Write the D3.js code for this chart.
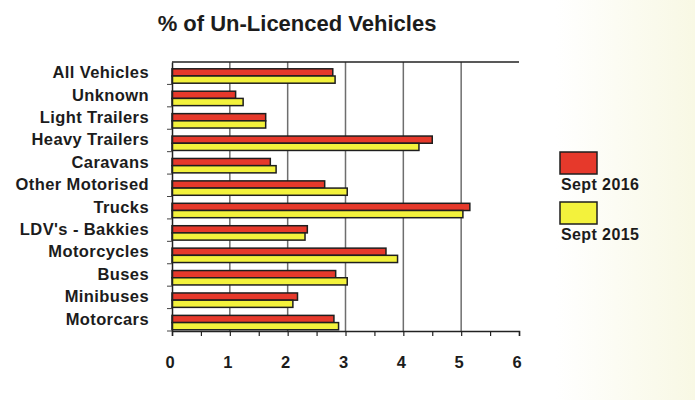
<!DOCTYPE html>
<html>
<head>
<meta charset="utf-8">
<script src="https://cdn.jsdelivr.net/npm/d3@7"></script>
<style>
  body { margin: 0; background: #fff; }
  svg text { font-family: "Liberation Sans", Arial, sans-serif; font-weight: bold; fill: #1c1c1c; }
</style>
</head>
<body>
<div id="chart"></div>
<script>
// data
var categories = ["All Vehicles", "Unknown", "Light Trailers", "Heavy Trailers", "Caravans",
  "Other Motorised", "Trucks", "LDV's - Bakkies", "Motorcycles", "Buses", "Minibuses", "Motorcars"];
var sept2016 = [2.78, 1.1, 1.62, 4.5, 1.7, 2.64, 5.15, 2.34, 3.7, 2.83, 2.17, 2.8];
var sept2015 = [2.82, 1.23, 1.62, 4.27, 1.8, 3.03, 5.03, 2.3, 3.9, 3.03, 2.09, 2.88];
var seriesNames = ["Sept 2016", "Sept 2015"];
var seriesColors = ["#e6392b", "#f3f23c"];
var xTicks = [0, 1, 2, 3, 4, 5, 6];

var width = 695, height = 400;
var svg = d3.select("#chart").append("svg")
  .attr("width", width)
  .attr("height", height);

// faint yellow tint of the scanned page at the right
var defs = svg.append("defs");
var grad = defs.append("linearGradient").attr("id", "paper")
  .attr("x1", "0%").attr("y1", "0%").attr("x2", "100%").attr("y2", "0%");
grad.append("stop").attr("offset", "0%").attr("stop-color", "#ffffff");
grad.append("stop").attr("offset", "80%").attr("stop-color", "#ffffff");
grad.append("stop").attr("offset", "100%").attr("stop-color", "#f8f8e4");
svg.append("rect").attr("width", width).attr("height", height).attr("fill", "url(#paper)");

var x = d3.scaleLinear().domain([0, 6]).range([172, 519]);
var y = d3.scaleBand().domain(categories).range([62, 331]);

// title
svg.append("text")
  .attr("x", 297).attr("y", 31)
  .attr("text-anchor", "middle")
  .style("font-size", "22px")
  .text("% of Un-Licenced Vehicles");

// gridlines
svg.append("g").selectAll("line")
  .data(xTicks.slice(1, 6))
  .enter().append("line")
  .attr("x1", d => x(d)).attr("x2", d => x(d))
  .attr("y1", 62).attr("y2", 331)
  .attr("stroke", "#6e6e6e").attr("stroke-width", 1.5);

// top frame line
svg.append("line")
  .attr("x1", x(0)).attr("x2", x(6))
  .attr("y1", 62).attr("y2", 62)
  .attr("stroke", "#222").attr("stroke-width", 1.5);

// bars
var bh = 7.2;
var rows = svg.append("g").selectAll("g")
  .data(categories)
  .enter().append("g");
rows.append("rect")
  .attr("x", x(0))
  .attr("y", d => y(d) + 6.8)
  .attr("width", (d, i) => x(sept2016[i]) - x(0))
  .attr("height", bh)
  .attr("fill", seriesColors[0])
  .attr("stroke", "#1e1e1e").attr("stroke-width", 1.5);
rows.append("rect")
  .attr("x", x(0))
  .attr("y", d => y(d) + 6.8 + bh)
  .attr("width", (d, i) => x(sept2015[i]) - x(0))
  .attr("height", bh)
  .attr("fill", seriesColors[1])
  .attr("stroke", "#1e1e1e").attr("stroke-width", 1.5);

// x axis with half-step minor ticks
var xAxis = svg.append("g")
  .attr("transform", "translate(0,331)")
  .call(d3.axisBottom(x).tickValues(d3.range(0, 6.01, 0.5)).tickSize(5).tickFormat(""));
xAxis.select(".domain").attr("stroke", "#222").attr("stroke-width", 1.5);
xAxis.selectAll(".tick line").attr("stroke", "#222").attr("stroke-width", 1.2);

svg.append("g").selectAll("text")
  .data(xTicks)
  .enter().append("text")
  .attr("x", d => x(d) - 2)
  .attr("y", 368)
  .attr("text-anchor", "middle")
  .style("font-size", "16.5px")
  .text(d => d);

// y axis
var yAxis = svg.append("g")
  .attr("transform", "translate(" + x(0) + ",0)")
  .call(d3.axisLeft(y).tickSize(0).tickPadding(23));
yAxis.select(".domain").attr("stroke", "#222").attr("stroke-width", 1.5);
yAxis.selectAll("text")
  .style("font-size", "16.5px")
  .style("letter-spacing", "0.4px")
  .style("font-family", "'Liberation Sans', Arial, sans-serif")
  .style("font-weight", "bold")
  .attr("fill", "#1c1c1c")
  .attr("dy", "0.3em");
// small category separator ticks
svg.append("g").selectAll("line")
  .data(categories)
  .enter().append("line")
  .attr("x1", x(0) - 5).attr("x2", x(0))
  .attr("y1", d => y(d) + y.bandwidth()).attr("y2", d => y(d) + y.bandwidth())
  .attr("stroke", "#444").attr("stroke-width", 1);

// legend
var legend = svg.append("g").selectAll("g")
  .data(seriesNames)
  .enter().append("g")
  .attr("transform", (d, i) => "translate(560," + (152 + i * 50) + ")");
legend.append("rect")
  .attr("width", 37).attr("height", 22)
  .attr("fill", (d, i) => seriesColors[i])
  .attr("stroke", "#1e1e1e").attr("stroke-width", 1.5);
legend.append("text")
  .attr("x", 1).attr("y", 38)
  .style("font-size", "16px")
  .style("letter-spacing", "0.4px")
  .text(d => d);
</script>
</body>
</html>
